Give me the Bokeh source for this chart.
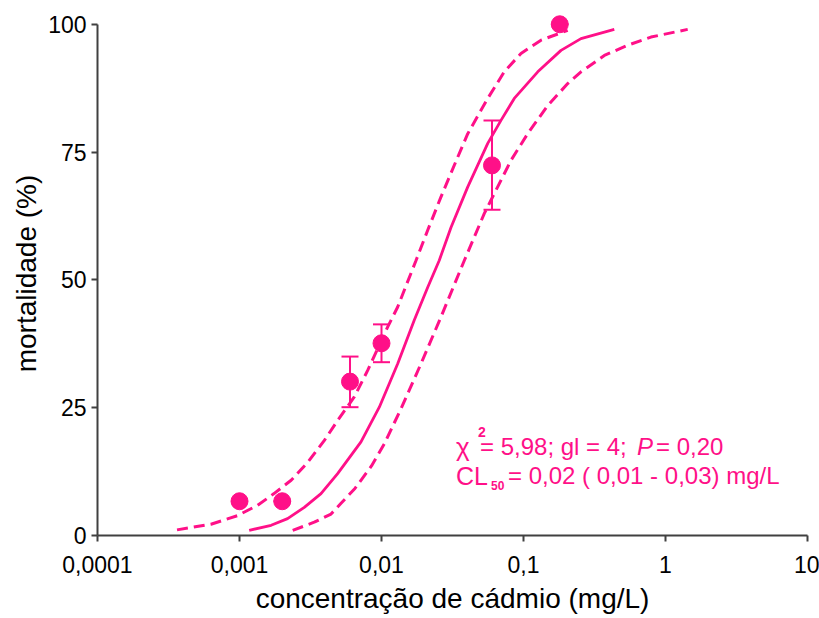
from bokeh.plotting import figure
from bokeh.models import Range1d, FixedTicker, ColumnDataSource, Whisker, TeeHead, Label
from bokeh.embed import file_html
from bokeh.resources import INLINE

# observed points
conc = [0.001, 0.002, 0.006, 0.01, 0.06, 0.18]
mort = [6.7, 6.7, 30.1, 37.6, 72.4, 100.0]
err_low = [6.7, 6.7, 25.1, 33.9, 63.7, 100.0]
err_high = [6.7, 6.7, 35.0, 41.3, 81.2, 100.0]

# fitted curve (solid) and confidence limits (dashed)
fit_x = [0.00117, 0.00167, 0.00218, 0.00286, 0.00375, 0.00491, 0.00717, 0.00965, 0.0130, 0.0170,
         0.0212, 0.0255, 0.0309, 0.0405, 0.0560, 0.0694, 0.0861, 0.126, 0.1837, 0.254, 0.436]
fit_y = [1.0, 2.0, 3.3, 5.5, 8.2, 12.1, 18.3, 25.1, 33.6, 42.1,
         48.6, 53.8, 60.3, 68.2, 76.7, 81.2, 85.5, 90.7, 94.9, 97.2, 99.0]
upper_x = [0.000363, 0.00063, 0.00097, 0.00134, 0.00175, 0.00231, 0.00302, 0.00396, 0.00491,
           0.00643, 0.00799, 0.01106, 0.0130, 0.0175, 0.02115, 0.0262, 0.0344, 0.0405,
           0.0560, 0.0732, 0.0960, 0.1328, 0.2048]
upper_y = [1.1, 2.2, 3.9, 5.9, 8.2, 10.8, 14.3, 18.6, 22.5,
           27.1, 32.3, 40.8, 44.7, 53.8, 59.7, 66.2, 74.0, 78.6,
           85.5, 90.7, 94.3, 96.9, 98.8]
lower_x = [0.00237, 0.00336, 0.00441, 0.00519, 0.0065, 0.0085, 0.0105, 0.01372, 0.01897, 0.0262,
           0.0383, 0.0530, 0.0817, 0.107, 0.148, 0.2048, 0.254, 0.371, 0.542, 0.790, 1.433]
lower_y = [1.0, 2.6, 4.2, 6.3, 9.2, 13.6, 18.0, 24.8, 33.6, 42.7,
           53.8, 63.0, 73.4, 78.6, 84.1, 88.4, 90.7, 93.9, 95.9, 97.5, 99.0]

x_ticks = [0.0001, 0.001, 0.01, 0.1, 1, 10]
x_tick_labels = ["0,0001", "0,001", "0,01", "0,1", "1", "10"]
y_ticks = [0, 25, 50, 75, 100]

PINK = "#FF1088"
AXIS = "#404040"
FONT = "Liberation Sans"

p = figure(frame_width=710, frame_height=524, x_axis_type="log",
           x_range=Range1d(0.0001, 10), y_range=Range1d(0, 102.5),
           output_backend="svg", toolbar_location=None,
           min_border_left=97, min_border_right=12, min_border_top=11, min_border_bottom=10)
p.outline_line_color = None
p.xgrid.visible = False
p.ygrid.visible = False

for ax in (p.xaxis[0], p.yaxis[0]):
    ax.axis_line_color = AXIS
    ax.axis_line_width = 2
    ax.major_tick_line_color = AXIS
    ax.major_tick_line_width = 2
    ax.major_tick_out = 6
    ax.major_tick_in = 0
    ax.minor_tick_line_color = None
    ax.major_label_text_font = FONT
    ax.major_label_text_font_size = "23px"
    ax.major_label_text_color = "black"
    ax.axis_label_text_font = FONT
    ax.axis_label_text_font_size = "28px"
    ax.axis_label_text_font_style = "normal"
    ax.axis_label_text_color = "black"

p.xaxis.ticker = FixedTicker(ticks=x_ticks)
p.xaxis.major_label_overrides = dict(zip(x_ticks, x_tick_labels))
p.xaxis.axis_label = "concentração de cádmio (mg/L)"
p.xaxis.major_label_standoff = 14
p.xaxis.axis_label_standoff = 7

p.yaxis.ticker = FixedTicker(ticks=y_ticks)
p.yaxis.bounds = (0, 100)
p.yaxis.axis_label = "mortalidade (%)"
p.yaxis.major_label_standoff = 5
p.yaxis.axis_label_standoff = 3

p.line(upper_x, upper_y, line_color=PINK, line_width=3, line_dash="11 6")
p.line(lower_x, lower_y, line_color=PINK, line_width=3, line_dash="11 6")
p.line(fit_x, fit_y, line_color=PINK, line_width=2.8)

src = ColumnDataSource(dict(x=conc, y=mort, lo=err_low, hi=err_high))
w = Whisker(source=src, base="x", lower="lo", upper="hi", line_color=PINK, line_width=2,
            upper_head=TeeHead(size=17, line_color=PINK, line_width=2),
            lower_head=TeeHead(size=17, line_color=PINK, line_width=2))
p.add_layout(w)
p.scatter("x", "y", source=src, size=17, color=PINK, marker="circle")

# annotation (data coordinates of each text fragment)
def lab(x, y, t, size="24px", style="normal"):
    p.add_layout(Label(x=x, y=y, text=t, text_font=FONT, text_font_size=size,
                       text_font_style=style, text_color=PINK, text_baseline="alphabetic"))

lab(0.03346, 17.4, "χ", size="26px")
lab(0.0478, 20.2, "2", size="14px", style="bold")
lab(0.0494, 17.4, "= 5,98; gl = 4; ")
lab(0.630, 17.4, "P", style="italic")
lab(0.857, 17.4, "= 0,20")
lab(0.03346, 11.7, "CL", size="25px")
lab(0.0590, 9.8, "50", size="12px", style="bold")
lab(0.0778, 11.7, "= 0,02 ( 0,01 - 0,03) mg/L")

open("out.html", "w").write(file_html(p, INLINE))
